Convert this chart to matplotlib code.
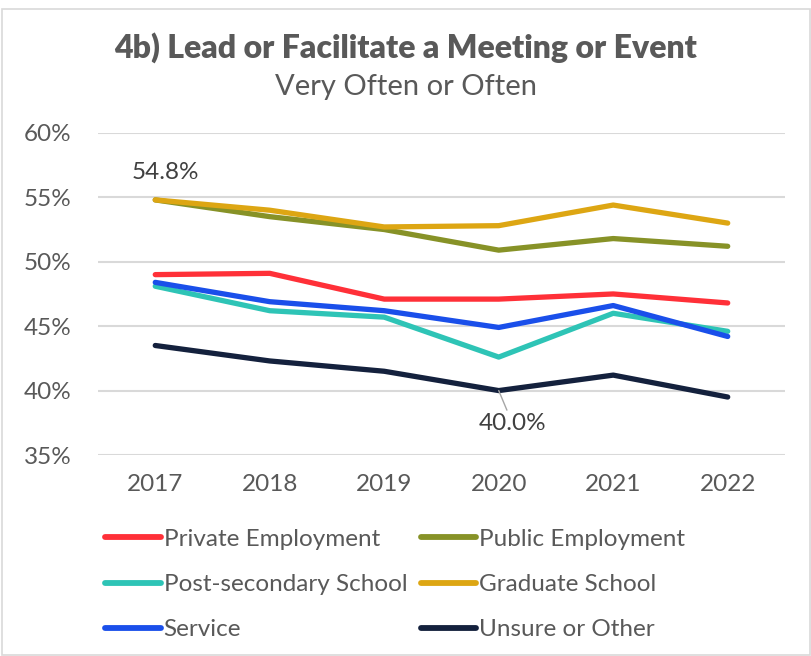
import matplotlib.pyplot as plt
from matplotlib.patches import Rectangle

years = ["2017", "2018", "2019", "2020", "2021", "2022"]
private = [49.0, 49.1, 47.1, 47.1, 47.5, 46.8]
public = [54.8, 53.5, 52.5, 50.9, 51.8, 51.2]
postsec = [48.1, 46.2, 45.7, 42.6, 46.0, 44.6]
graduate = [54.8, 54.0, 52.7, 52.8, 54.4, 53.0]
service = [48.4, 46.9, 46.2, 44.9, 46.6, 44.2]
unsure = [43.5, 42.3, 41.5, 40.0, 41.2, 39.5]
yticks = [35, 40, 45, 50, 55, 60]

plt.rcParams['font.family'] = ['Lato', 'DejaVu Sans']

fig = plt.figure(figsize=(8.12, 6.56), dpi=100)
fig.patches.append(Rectangle((0.002, 0.002), 0.995, 0.985, transform=fig.transFigure,
                             fill=False, edgecolor="#d9d9d9", lw=1.2))
ax = fig.add_axes([0.1207, 0.3064, 0.846, 0.491])

x = range(len(years))
series = [
    ("Private Employment", private, "#FF3038"),
    ("Public Employment", public, "#879227"),
    ("Post-secondary School", postsec, "#2EC4B6"),
    ("Graduate School", graduate, "#DDA613"),
    ("Service", service, "#1A4FEA"),
    ("Unsure or Other", unsure, "#14213D"),
]
lines = {}
# graduate after public so gold sits on top at 2017
for name, vals, col in [series[0], series[1], series[3], series[2], series[4], series[5]]:
    lines[name], = ax.plot(x, vals, color=col, lw=3.8, solid_capstyle="round", label=name)

ax.set_xlim(-0.5, 5.5)
ax.set_ylim(35, 60)
ax.set_yticks(yticks)
ax.set_yticklabels([f"{t}%" for t in yticks])
ax.set_xticks(list(x))
ax.set_xticklabels(years)
ax.grid(axis="y", color="#d9d9d9", lw=1.5)
ax.set_axisbelow(True)
for s in ax.spines.values():
    s.set_visible(False)
ax.tick_params(length=0, labelsize=17.5, colors="#595959", pad=14)
ax.tick_params(axis="y", pad=19)

ax.annotate(f"{graduate[0]:.1f}%", (0, graduate[0]), xytext=(0.09, 56.95),
            ha="center", va="center", fontsize=17.5, color="#404040")
ax.annotate(f"{unsure[3]:.1f}%", (3, unsure[3]), xytext=(3.12, 37.45),
            ha="center", va="center", fontsize=17.5, color="#404040",
            arrowprops=dict(arrowstyle="-", color="#a6a6a6", lw=1, shrinkA=0, shrinkB=0))

fig.text(0.5, 0.927, "4b) Lead or Facilitate a Meeting or Event", ha="center", va="center",
         fontsize=23, fontweight="heavy", color="#595959")
fig.text(0.5, 0.868, "Very Often or Often", ha="center", va="center",
         fontsize=21, color="#595959")

order = ["Private Employment", "Post-secondary School", "Service",
         "Public Employment", "Graduate School", "Unsure or Other"]
leg = fig.legend([lines[n] for n in order], order, ncol=2, loc="upper left",
                 bbox_to_anchor=(0.129, 0.194), frameon=False, fontsize=17.5,
                 handlelength=2.3, handletextpad=0.12, columnspacing=0.55,
                 labelspacing=1.0, borderaxespad=0, borderpad=0)
for h in leg.get_lines():
    h.set_linewidth(4.2)
for t in leg.get_texts():
    t.set_color("#595959")

fig.savefig("out.png", dpi=100)
